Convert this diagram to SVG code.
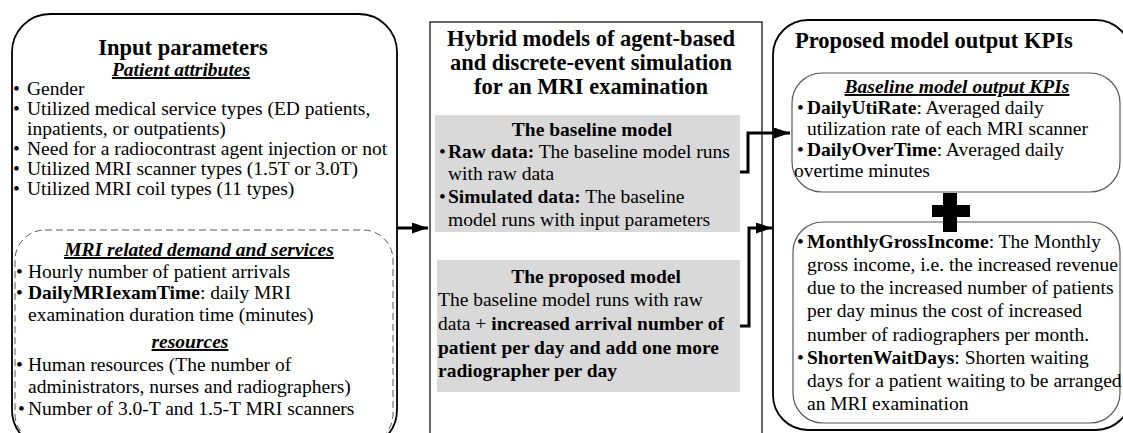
<svg xmlns="http://www.w3.org/2000/svg" width="1123" height="433" viewBox="0 0 1123 433">
  <style>
    text { font-family: "Liberation Serif", "Times New Roman", serif; fill: #000; }
    .body { font-size: 19.5px; }
    .title { font-size: 22.5px; font-weight: bold; }
    .head { font-size: 19.5px; font-weight: bold; font-style: italic; text-decoration: underline; }
    .sub { font-size: 19.5px; font-weight: bold; }
    .b { font-weight: bold; }
    .mid { text-anchor: middle; }
    .outer { fill: #fff; stroke: #000; stroke-width: 1.8; }
    .inner { fill: none; stroke: #595959; stroke-width: 1.2; }
    .dash { fill: none; stroke: #595959; stroke-width: 1; stroke-dasharray: 7 4; }
    .shade { fill: #d9d9d9; }
    .conn { fill: none; stroke: #000; stroke-width: 3; }
  </style>
  <defs>
    <marker id="arrow" markerUnits="userSpaceOnUse" markerWidth="16" markerHeight="11" refX="16" refY="5.5" orient="auto">
      <path d="M0,0 L16,5.5 L0,11 Z" fill="#000"/>
    </marker>
  </defs>
  <rect width="1123" height="433" fill="#fff"/>

  <!-- Input parameters -->
  <g id="input-parameters">
    <rect class="outer" x="12" y="14" width="385" height="434" rx="38" ry="38"/>
    <text class="title mid" x="183" y="55">Input parameters</text>
    <text class="head mid" x="181" y="76">Patient attributes</text>
    <g class="body">
      <text x="13" y="95">•</text><text x="27" y="95">Gender</text>
      <text x="13" y="115">•</text><text x="27" y="115">Utilized medical service types (ED patients,</text>
      <text x="27" y="135">inpatients, or outpatients)</text>
      <text x="13" y="155">•</text><text x="27" y="155">Need for a radiocontrast agent injection or not</text>
      <text x="13" y="175">•</text><text x="27" y="175">Utilized MRI scanner types (1.5T or 3.0T)</text>
      <text x="13" y="195">•</text><text x="27" y="195">Utilized MRI coil types (11 types)</text>
    </g>
    <g id="demand-and-resources">
      <rect class="dash" x="15" y="230" width="378" height="214" rx="30" ry="30"/>
      <text class="head mid" x="199" y="256">MRI related demand and services</text>
      <g class="body">
        <text x="16" y="278">•</text><text x="28" y="278">Hourly number of patient arrivals</text>
        <text x="16" y="299">•</text><text x="28" y="299"><tspan class="b">DailyMRIexamTime</tspan>: daily MRI</text>
        <text x="28" y="321">examination duration time (minutes)</text>
      </g>
      <text class="head mid" x="190" y="348">resources</text>
      <g class="body">
        <text x="16" y="371">•</text><text x="28" y="371">Human resources (The number of</text>
        <text x="28" y="393">administrators, nurses and radiographers)</text>
        <text x="18" y="415">•</text><text x="28" y="415">Number of 3.0-T and 1.5-T MRI scanners</text>
      </g>
    </g>
  </g>

  <!-- Hybrid simulation models -->
  <g id="hybrid-models">
    <rect x="430" y="22" width="332" height="430" fill="#fff" stroke="#000" stroke-width="1.2"/>
    <text class="title mid" x="591" y="46">Hybrid models of agent-based</text>
    <text class="title mid" x="591" y="70">and discrete-event simulation</text>
    <text class="title mid" x="591" y="94">for an MRI examination</text>
    <g id="baseline-model">
      <rect class="shade" x="435" y="115" width="305" height="117"/>
      <text class="sub mid" x="592" y="136">The baseline model</text>
      <g class="body">
        <text x="439" y="158">•</text><text x="448" y="158"><tspan class="b">Raw data:</tspan> The baseline model runs</text>
        <text x="448" y="180">with raw data</text>
        <text x="439" y="203">•</text><text x="448" y="203"><tspan class="b">Simulated data:</tspan> The baseline</text>
        <text x="448" y="226">model runs with input parameters</text>
      </g>
    </g>
    <g id="proposed-model">
      <rect class="shade" x="437" y="260" width="303" height="132"/>
      <text class="sub mid" x="596" y="283">The proposed model</text>
      <g class="body">
        <text x="438" y="306">The baseline model runs with raw</text>
        <text x="438" y="330">data + <tspan class="b">increased arrival number of</tspan></text>
        <text class="b" x="438" y="354">patient per day and add one more</text>
        <text class="b" x="438" y="377">radiographer per day</text>
      </g>
    </g>
  </g>

  <!-- Output KPIs -->
  <g id="output-kpis">
    <rect class="outer" x="773" y="20" width="358" height="410" rx="35" ry="35"/>
    <text class="title" x="795" y="48">Proposed model output KPIs</text>
    <g id="baseline-kpis">
      <rect class="inner" x="792" y="73" width="328" height="119" rx="30" ry="30"/>
      <text class="head mid" x="957" y="93">Baseline model output KPIs</text>
      <g class="body">
        <text x="797" y="114">•</text><text x="807" y="114"><tspan class="b">DailyUtiRate</tspan>: Averaged daily</text>
        <text x="807" y="135">utilization rate of each MRI scanner</text>
        <text x="797" y="156">•</text><text x="807" y="156"><tspan class="b">DailyOverTime</tspan>: Averaged daily</text>
        <text x="794" y="177">overtime minutes</text>
      </g>
    </g>
    <g id="plus">
      <rect x="932" y="205" width="38" height="12" fill="#000"/>
      <rect x="943" y="193" width="14" height="39" fill="#000"/>
    </g>
    <g id="proposed-kpis">
      <rect class="inner" x="793" y="222" width="327" height="201" rx="30" ry="30"/>
      <rect x="943" y="221" width="14" height="11" fill="#000"/>
      <g class="body">
        <text x="797" y="248">•</text><text x="807" y="248"><tspan class="b">MonthlyGrossIncome</tspan>: The Monthly</text>
        <text x="807" y="271">gross income, i.e. the increased revenue</text>
        <text x="807" y="294">due to the increased number of patients</text>
        <text x="807" y="317">per day minus the cost of increased</text>
        <text x="807" y="341">number of radiographers per month.</text>
        <text x="797" y="364">•</text><text x="807" y="364"><tspan class="b">ShortenWaitDays</tspan>: Shorten waiting</text>
        <text x="807" y="387">days for a patient waiting to be arranged</text>
        <text x="807" y="410">an MRI examination</text>
      </g>
    </g>
  </g>

  <!-- Connectors -->
  <g id="connectors">
    <path class="conn" d="M397,228 H428" marker-end="url(#arrow)"/>
    <path class="conn" d="M740,172 H748 V133 H790" marker-end="url(#arrow)"/>
    <path class="conn" d="M740,326 H749 V228 H772" marker-end="url(#arrow)"/>
  </g>
</svg>
